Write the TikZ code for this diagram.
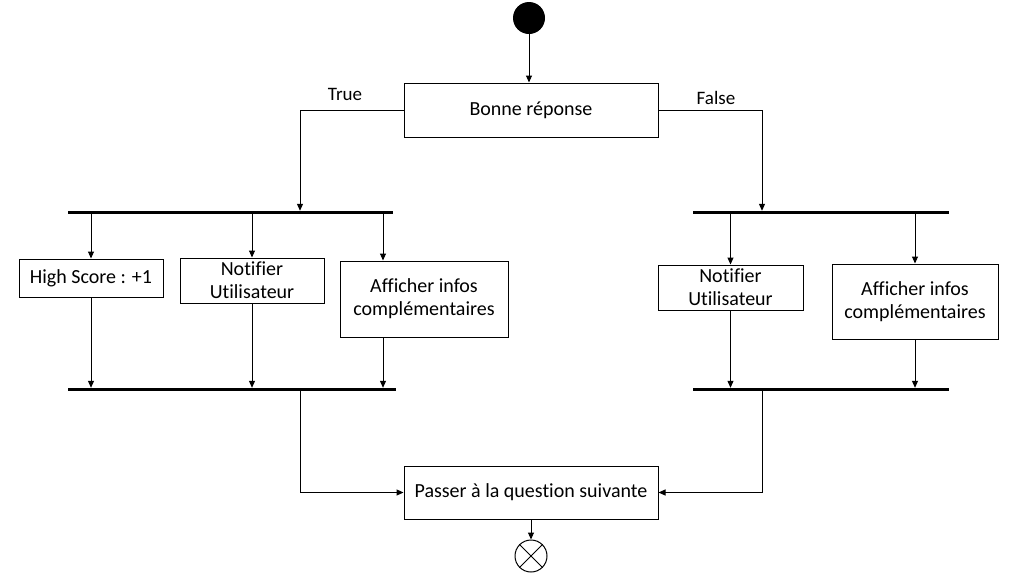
\documentclass[tikz,border=0pt]{standalone}
\usepackage{fontspec}
\setmainfont[Ligatures=NoCommon]{Carlito}
\usetikzlibrary{arrows.meta}
\tikzset{
	action/.style={draw, line width=1pt, align=center, inner sep=0pt,
		font=\fontsize{20}{23}\selectfont},
	bar/.style={fill=black, inner sep=0pt, minimum height=3pt},
	flow/.style={line width=1pt, -{Triangle[length=7pt,width=6pt]}},
	guard/.style={font=\fontsize{19}{22}\selectfont},
}
\begin{document}
\begin{tikzpicture}[x=1pt,y=-1pt]
	\useasboundingbox (0,0) rectangle (1026,579);
	% start and test
	\node[circle, fill=black, minimum size=32pt, inner sep=0pt] (start) at (529,18) {};
	\node[action, minimum width=254pt, minimum height=54pt] (test) at (531,110) {Bonne réponse};
	\draw[flow] (start) -- (start |- test.north);
	% fork / join bars
	\node[bar, minimum width=325pt] (forkT) at (230.5,212.5) {};
	\node[bar, minimum width=328pt] (joinT) at (232,389.5) {};
	\node[bar, minimum width=256pt] (forkF) at (821,212.5) {};
	\node[bar, minimum width=256pt] (joinF) at (821,389.5) {};
	\coordinate (tIn) at (300,212);
	\coordinate (fIn) at (762,212);
	\coordinate (infTx) at (383,300);
	% guards
	\node[guard] (lblT) at (345,94) {True};
	\node[guard] (lblF) at (716,98) {False};
	\draw[flow] (test.west) -| (tIn |- forkT.north);
	\draw[flow] (test.east) -| (fIn |- forkF.north);
	% True branch
	\node[action, minimum width=144pt, minimum height=38pt] (hsT) at (91,278) {High Score : +1};
	\node[action, minimum width=144pt, minimum height=45pt] (notT) at (252,280.5) {Notifier\\Utilisateur};
	\node[action, minimum width=168pt, minimum height=76pt] (infT) at (424,299) {Afficher infos\\complémentaires};
	\draw[flow] (hsT.north |- forkT.south) -- (hsT.north);
	\draw[flow] (notT.north |- forkT.south) -- (notT.north);
	\draw[flow] (infTx |- forkT.south) -- (infTx |- infT.north);
	\draw[flow] (hsT.south) -- (hsT.south |- joinT.north);
	\draw[flow] (notT.south) -- (notT.south |- joinT.north);
	\draw[flow] (infTx |- infT.south) -- (infTx |- joinT.north);
	% False branch
	\node[action, minimum width=145pt, minimum height=45pt] (notF) at (730.5,287.5) {Notifier\\Utilisateur};
	\node[action, minimum width=166pt, minimum height=75pt] (infF) at (915,301.5) {Afficher infos\\complémentaires};
	\draw[flow] (notF.north |- forkF.south) -- (notF.north);
	\draw[flow] (infF.north |- forkF.south) -- (infF.north);
	\draw[flow] (notF.south) -- (notF.south |- joinF.north);
	\draw[flow] (infF.south) -- (infF.south |- joinF.north);
	% next question and end
	\node[action, minimum width=254pt, minimum height=53pt] (next) at (531,492.5) {Passer à la question suivante};
	\draw[flow] (tIn |- joinT.south) |- (next.west);
	\draw[flow] (fIn |- joinF.south) |- (next.east);
	\node[circle, draw, line width=1pt, minimum size=32pt, inner sep=0pt] (end) at (531,556) {};
	\draw[line width=1pt] (end.north west) -- (end.south east);
	\draw[line width=1pt] (end.north east) -- (end.south west);
	\draw[flow] (next.south) -- (end.north);
\end{tikzpicture}
\end{document}
